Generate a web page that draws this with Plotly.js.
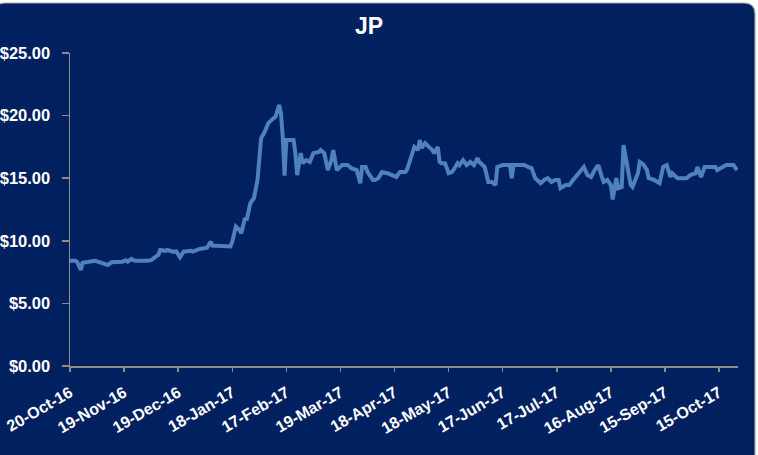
<!DOCTYPE html>
<html>
<head>
<meta charset="utf-8">
<script src="https://cdn.plot.ly/plotly-3.0.1.min.js"></script>
<style>
  html, body { margin: 0; padding: 0; background: #ffffff; }
  #chart { width: 758px; height: 455px; }
</style>
</head>
<body>
<div id="chart"></div>
<script>
// ---- Data ----
const chartTitle = "JP";

const dates = [
  "2016-10-20","2016-10-23","2016-10-24","2016-10-26","2016-10-27","2016-10-31",
  "2016-11-03","2016-11-06","2016-11-10","2016-11-12","2016-11-18","2016-11-20",
  "2016-11-21","2016-11-23","2016-11-25","2016-12-02","2016-12-04","2016-12-06",
  "2016-12-08","2016-12-09","2016-12-12","2016-12-13","2016-12-16","2016-12-18",
  "2016-12-20","2016-12-22","2016-12-26","2016-12-27","2016-12-31","2017-01-04",
  "2017-01-06","2017-01-07","2017-01-13","2017-01-17","2017-01-18","2017-01-20",
  "2017-01-22","2017-01-23","2017-01-25","2017-01-26","2017-01-28","2017-01-30",
  "2017-02-01","2017-02-02","2017-02-03","2017-02-05","2017-02-07","2017-02-10",
  "2017-02-11","2017-02-13","2017-02-14","2017-02-15","2017-02-16","2017-02-17",
  "2017-02-21","2017-02-22","2017-02-23","2017-02-25","2017-02-26","2017-02-28",
  "2017-03-02","2017-03-04","2017-03-07","2017-03-08","2017-03-10","2017-03-12",
  "2017-03-14","2017-03-15","2017-03-17","2017-03-20","2017-03-23","2017-03-25",
  "2017-03-28","2017-03-30","2017-03-31","2017-04-02","2017-04-03","2017-04-06",
  "2017-04-07","2017-04-09","2017-04-11","2017-04-14","2017-04-17","2017-04-19",
  "2017-04-21","2017-04-24","2017-04-25","2017-04-28","2017-04-29","2017-05-01",
  "2017-05-02","2017-05-03","2017-05-05","2017-05-07","2017-05-09","2017-05-10",
  "2017-05-12","2017-05-13","2017-05-14","2017-05-16","2017-05-18","2017-05-20",
  "2017-05-23","2017-05-24","2017-05-26","2017-05-28","2017-05-30","2017-06-01",
  "2017-06-03","2017-06-04","2017-06-07","2017-06-09","2017-06-11","2017-06-13",
  "2017-06-14","2017-06-17","2017-06-21","2017-06-22","2017-06-23","2017-06-26",
  "2017-06-29","2017-07-01","2017-07-03","2017-07-05","2017-07-08","2017-07-10",
  "2017-07-12","2017-07-14","2017-07-16","2017-07-18","2017-07-19","2017-07-22",
  "2017-07-24","2017-07-26","2017-07-29","2017-08-01","2017-08-03","2017-08-05",
  "2017-08-07","2017-08-09","2017-08-11","2017-08-12","2017-08-14","2017-08-16",
  "2017-08-17","2017-08-19","2017-08-20","2017-08-22","2017-08-23","2017-08-25",
  "2017-08-27","2017-08-28","2017-08-31","2017-09-01","2017-09-03","2017-09-05",
  "2017-09-06","2017-09-09","2017-09-12","2017-09-14","2017-09-16","2017-09-18",
  "2017-09-19","2017-09-22","2017-09-24","2017-09-27","2017-09-29","2017-10-02",
  "2017-10-03","2017-10-05","2017-10-07","2017-10-10","2017-10-13","2017-10-14",
  "2017-10-17","2017-10-19","2017-10-23","2017-10-25"
];

const prices = [
  8.41, 8.40, 8.30, 7.67, 8.25, 8.30,
  8.40, 8.25, 8.07, 8.28, 8.33, 8.44,
  8.33, 8.55, 8.40, 8.40, 8.45, 8.68,
  8.87, 9.27, 9.20, 9.27, 9.13, 9.15,
  8.68, 9.13, 9.20, 9.13, 9.35, 9.45,
  9.93, 9.62, 9.55, 9.55, 9.93, 11.13,
  10.86, 10.60, 11.80, 11.66, 13.00, 13.40,
  14.86, 16.70, 18.20, 18.70, 19.40, 19.80,
  19.90, 20.85, 20.20, 18.30, 15.20, 18.05,
  18.05, 17.00, 15.25, 17.00, 16.20, 16.45,
  16.30, 17.00, 17.10, 17.25, 17.00, 15.65,
  16.45, 17.25, 15.65, 16.05, 16.05, 15.80,
  15.65, 14.60, 15.90, 15.90, 15.50, 14.86,
  14.86, 15.00, 15.50, 15.40, 15.25, 15.10,
  15.50, 15.50, 15.70, 17.00, 17.50, 17.25,
  18.05, 17.40, 17.80, 17.50, 17.25, 17.00,
  17.50, 16.30, 16.20, 16.20, 15.40, 15.50,
  16.20, 16.05, 16.45, 16.05, 16.30, 16.05,
  16.60, 16.30, 15.90, 14.70, 14.70, 14.45,
  15.90, 16.05, 16.05, 15.00, 16.05, 16.05,
  16.05, 15.90, 15.80, 15.00, 14.60, 14.86,
  15.00, 14.70, 14.86, 14.86, 14.20, 14.45,
  14.45, 14.86, 15.40, 15.90, 15.25, 15.10,
  15.65, 16.05, 15.10, 14.70, 14.86, 14.45,
  13.30, 15.00, 14.20, 14.30, 17.65, 16.20,
  14.45, 14.30, 15.40, 16.30, 16.10, 15.65,
  15.00, 14.86, 14.60, 15.90, 16.05, 15.10,
  15.40, 15.00, 15.00, 15.00, 15.25, 15.40,
  15.90, 15.10, 15.90, 15.90, 15.90, 15.65,
  15.90, 16.05, 16.05, 15.65
];

const xTickVals = [
  "2016-10-20","2016-11-19","2016-12-19","2017-01-18","2017-02-17","2017-03-19",
  "2017-04-18","2017-05-18","2017-06-17","2017-07-17","2017-08-16","2017-09-15",
  "2017-10-15"
];
const xTickText = [
  "20-Oct-16","19-Nov-16","19-Dec-16","18-Jan-17","17-Feb-17","19-Mar-17",
  "18-Apr-17","18-May-17","17-Jun-17","17-Jul-17","16-Aug-17","15-Sep-17",
  "15-Oct-17"
];
const yTickVals = [0, 5, 10, 15, 20, 25];
const yTickText = ["$0.00", "$5.00", "$10.00", "$15.00", "$20.00", "$25.00"];

// ---- Layout / styling ----
const navy = "#002060";
const axisGray = "#8c8c8c";
const fontFam = "Liberation Sans, Arial, sans-serif";

// plot area: px 70..738 horizontally, 53..366 vertically
const W = 758, H = 455, L = 70, R = 20, T = 53, B = 89;
const pw = W - L - R, ph = H - T - B;
function px(x) { return (x - L) / pw; }
function py(y) { return (H - B - y) / ph; }

// rounded frame path in paper coordinates
const fx0 = -6, fx1 = 755, fy0 = 3, fy1 = 470, rad = 11;
const framePath =
  "M " + px(fx0 + rad) + "," + py(fy0) +
  " L " + px(fx1 - rad) + "," + py(fy0) +
  " Q " + px(fx1) + "," + py(fy0) + " " + px(fx1) + "," + py(fy0 + rad) +
  " L " + px(fx1) + "," + py(fy1) +
  " L " + px(fx0) + "," + py(fy1) +
  " L " + px(fx0) + "," + py(fy0 + rad) +
  " Q " + px(fx0) + "," + py(fy0) + " " + px(fx0 + rad) + "," + py(fy0) + " Z";

const trace = {
  type: "scatter",
  mode: "lines",
  x: dates,
  y: prices,
  line: { color: "#4f81bd", width: 4, shape: "linear" },
  hoverinfo: "x+y",
  showlegend: false
};

const layout = {
  width: W,
  height: H,
  margin: { l: L, r: R, t: T, b: B, pad: 0 },
  paper_bgcolor: "#ffffff",
  plot_bgcolor: "rgba(0,0,0,0)",
  showlegend: false,
  title: {
    text: chartTitle,
    font: { family: fontFam, size: 23, color: "#ffffff", weight: "bold" },
    xref: "paper",
    x: px(369),
    xanchor: "center",
    yref: "container",
    y: 1 - 26 / H,
    yanchor: "middle"
  },
  shapes: [{
    type: "path",
    xref: "paper",
    yref: "paper",
    path: framePath,
    fillcolor: navy,
    line: { color: "#a6a6a6", width: 1.2 },
    layer: "below"
  }],
  xaxis: {
    type: "date",
    range: ["2016-10-20", "2017-10-25 12:00"],
    tickmode: "array",
    tickvals: xTickVals,
    ticktext: xTickText,
    tickangle: -30,
    ticks: "outside",
    ticklen: 4,
    tickwidth: 1.5,
    tickcolor: axisGray,
    ticklabelstandoff: 6,
    showline: true,
    linecolor: axisGray,
    linewidth: 1.5,
    showgrid: false,
    zeroline: false,
    tickfont: { family: fontFam, size: 16, color: "#ffffff", weight: "bold" },
    fixedrange: true
  },
  yaxis: {
    range: [0, 25],
    tickmode: "array",
    tickvals: yTickVals,
    ticktext: yTickText,
    ticks: "outside",
    ticklen: 7,
    tickwidth: 1.5,
    tickcolor: axisGray,
    ticklabelstandoff: 8,
    showline: true,
    linecolor: axisGray,
    linewidth: 1.5,
    showgrid: false,
    zeroline: false,
    tickfont: { family: fontFam, size: 16.5, color: "#ffffff", weight: "bold" },
    fixedrange: true
  }
};

Plotly.newPlot("chart", [trace], layout, { displayModeBar: false, staticPlot: true });
</script>
</body>
</html>
